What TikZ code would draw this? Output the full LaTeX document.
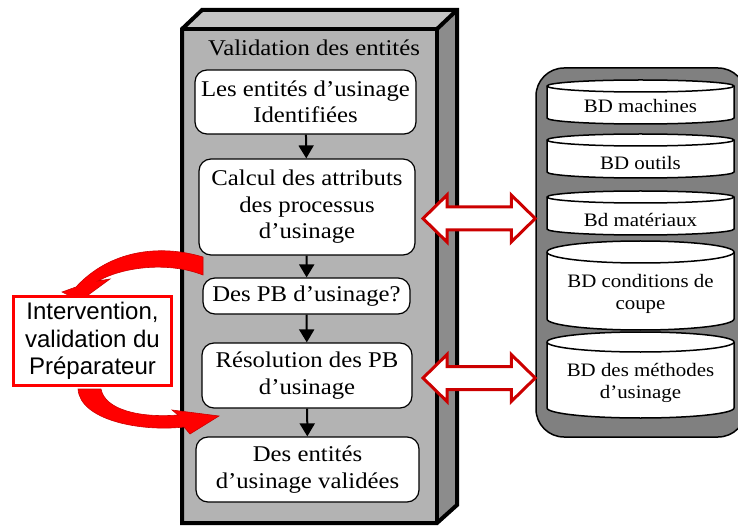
\documentclass[tikz,border=0pt]{standalone}
\usepackage{fontspec}
\setmainfont{Liberation Serif}[FakeStretch=1.1]
\newfontfamily\prepfont{Liberation Sans}
\usetikzlibrary{calc, positioning}
\usetikzlibrary{arrows.meta}

\definecolor{facegray}{RGB}{179,179,179}
\definecolor{topgray}{RGB}{196,196,196}
\definecolor{sidegray}{RGB}{140,140,140}
\definecolor{bdgray}{RGB}{128,128,128}
\definecolor{darkred}{RGB}{204,0,0}

\tikzset{
  etape/.style={draw, line width=1.2pt, rounded corners=12pt, fill=white, align=center,
    inner sep=0pt, font=\fontsize{22.5}{26.5}\selectfont},
  fleche/.style={line width=2pt, -{Triangle[length=13pt,width=15pt]}},
  cyl/.style={draw, line width=1.5pt, fill=white},
  bdtexte/.style={align=center, inner sep=0pt, font=\fontsize{19}{22}\selectfont},
  dblfleche/.style={draw=darkred, line width=3pt, fill=white, line join=miter},
  courbe/.style={fill=red, draw=darkred, line width=0.6pt}
}

\begin{document}
\begin{tikzpicture}[x=1pt, y=-1pt]
    \useasboundingbox (0,0) rectangle (738,526);

    % colonne 3D
    \fill[topgray] (182,29) -- (202,10) -- (457,10) -- (437,29) -- cycle;
    \fill[sidegray] (437,29) -- (457,10) -- (457,505) -- (437,523) -- cycle;
    \fill[facegray] (182,29) rectangle (437,523);
    \draw[line width=4pt, line join=miter] (182,29) -- (202,10) -- (457,10) -- (457,505)
      -- (437,523) -- (182,523) -- cycle;
    \draw[line width=4pt] (182,29) -- (437,29) -- (437,523);
    \draw[line width=4pt] (437,29) -- (457,10);

    \node[font=\fontsize{22.5}{26.5}\selectfont] (titre) at (314,48) {Validation des entités};

    \node[etape, minimum width=221pt, minimum height=64pt] (ent) at (305.5,102)
      {Les entités d’usinage\\Identifiées};
    \node[etape, minimum width=216pt, minimum height=96pt] (calc) at (307,207)
      {Calcul des attributs\\des processus\\d’usinage};
    \node[etape, minimum width=207pt, minimum height=36pt] (pb) at (306.5,296)
      {Des PB d’usinage?};
    \node[etape, minimum width=210pt, minimum height=65pt] (resol) at (307,375.5)
      {Résolution des PB\\d’usinage};
    \node[etape, minimum width=223pt, minimum height=65pt] (valid) at (307.5,469.5)
      {Des entités\\d’usinage validées};

    \draw[fleche] (ent) -- (calc);
    \draw[fleche] (calc) -- (pb);
    \draw[fleche] (pb) -- (resol);
    \draw[fleche] (resol) -- (valid);

    % bases de donnees
    \node[draw, line width=1.5pt, fill=bdgray, rounded corners=28pt, minimum width=210pt,
      minimum height=369pt, inner sep=0pt] (bd) at (641,252.5) {};

    \foreach \yt/\yb/\ry/\yn/\nom/\txt in {80/124/6/106/bdmach/{BD machines},
        134/178/6/163.5/bdout/{BD outils}, 191/235/6/220/bdmat/{Bd matériaux},
        241/330/11/294/bdcond/{BD conditions de\\coupe},
        332/418/10/383/bdmeth/{BD des méthodes\\d’usinage}}
    {
      \draw[cyl] (547,\yt+\ry) -- (547,\yb-\ry)
        arc[start angle=180, end angle=0, x radius=93.5, y radius=\ry]
        -- (734,\yt+\ry) arc[start angle=0, end angle=-180, x radius=93.5, y radius=\ry]
        -- cycle;
      \draw[cyl, fill=none] (547,\yt+\ry)
        arc[start angle=180, end angle=0, x radius=93.5, y radius=\ry];
      \node[bdtexte] (\nom) at (640.5,\yn) {\txt};
    }

    % doubles fleches
    \coordinate (g1) at (423,218.5);
    \coordinate (g2) at (423,378);
    \foreach \g in {g1, g2}
    {
      \draw[dblfleche] (\g) -- ++(24,-23.5) -- ++(0,12) -- ($(bd.west |- \g)+(-24,-11.5)$)
        -- ++(0,-12) -- (bd.west |- \g) -- ++(-24,23.5) -- ++(0,-12)
        -- ($(\g)+(24,11.5)$) -- ++(0,12) -- cycle;
    }

    % fleches courbes
    \draw[courbe] (203,257) .. controls (160,244) and (110,250) .. (76,287) -- (62,292)
      -- (80,301) -- (110,279) -- (98,281) .. controls (125,266) and (170,262) .. (203,275)
      -- cycle;
    \draw[courbe] (78,389) .. controls (80,420) and (140,432) .. (184,427) -- (190,434)
      -- (219,416) -- (172,410) -- (178,415) .. controls (140,418) and (105,410) .. (101,389)
      -- cycle;

    \node[draw=red, line width=3pt, fill=white, minimum width=158pt, minimum height=89pt,
      align=center, inner sep=0pt, font=\prepfont\fontsize{24}{27.5}\selectfont] (prep)
      at (92.5,341) {Intervention,\\validation du\\Préparateur};
\end{tikzpicture}
\end{document}
